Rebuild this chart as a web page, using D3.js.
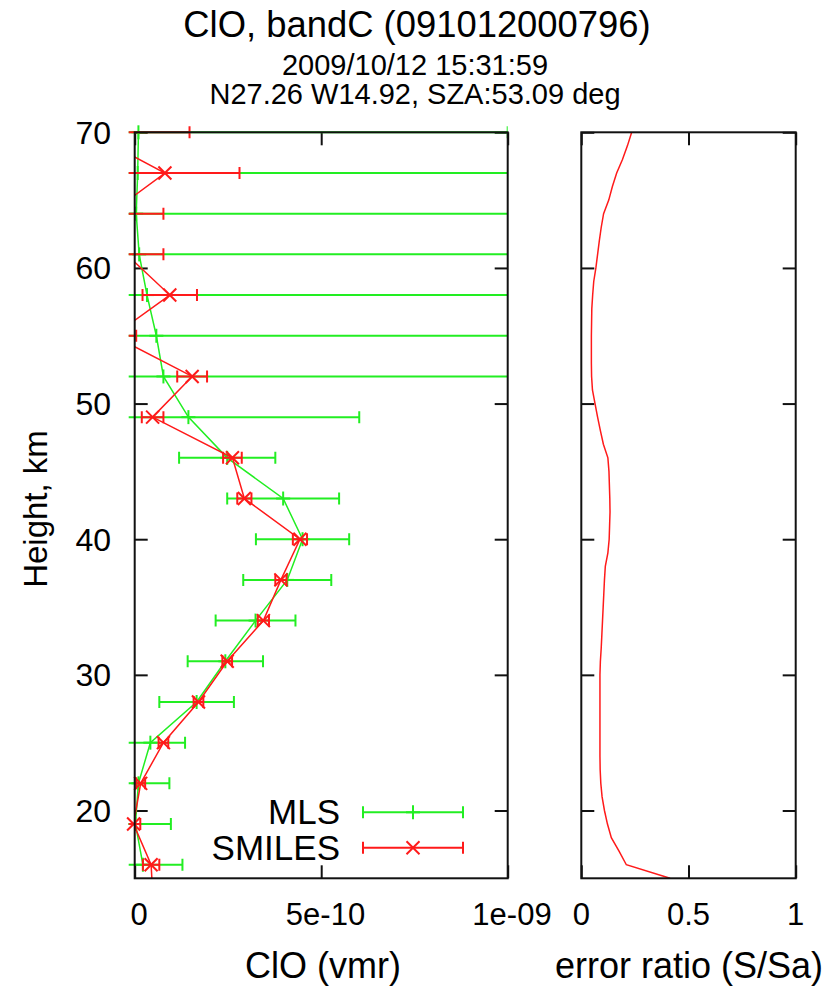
<!DOCTYPE html>
<html>
<head>
<meta charset="utf-8">
<script src="https://cdn.jsdelivr.net/npm/d3@7"></script>
<style>
  html, body { margin: 0; padding: 0; background: #fff; }
  svg text { font-family: "Liberation Sans", Arial, sans-serif; fill: #000; white-space: pre; }
</style>
</head>
<body>
<svg id="chart" width="827" height="987"></svg>
<script>
// ClO retrieval, band C: SMILES vs MLS profiles and the error ratio of the retrieval

// MLS profile (vmr) with its error
const mlsHeight = [70, 67, 64, 61, 58, 55, 52, 49, 46, 43, 40, 37, 34, 31, 28, 25, 22, 19, 16];
const mlsValue  = [1.0e-11, 8e-12, 4e-12, 1.2e-11, 3.3e-11, 5.8e-11, 7.7e-11, 1.44e-10, 2.48e-10,
                   3.98e-10, 4.50e-10, 4.09e-10, 3.24e-10, 2.43e-10, 1.66e-10, 4.2e-11, 1.0e-11, 2e-12, 2.2e-11];
const mlsError  = [9.9e-10, 1.2e-9, 1.3e-9, 1.1e-9, 1.05e-9, 1.0e-9, 1.0e-9, 4.58e-10, 1.29e-10,
                   1.5e-10, 1.25e-10, 1.18e-10, 1.07e-10, 1.01e-10, 1.0e-10, 9.3e-11, 8.3e-11, 9.5e-11, 1.06e-10];

// SMILES profile (vmr) with its error
const smilesHeight = [70, 67, 64, 61, 58, 55, 52, 49, 46, 43, 40, 37, 34, 31, 28, 25, 22, 19, 16, 13];
const smilesValue  = [-1.25e-10, 8.1e-11, -6.6e-11, -2.2e-11, 9.4e-11, -5.7e-11, 1.54e-10, 4.8e-11, 2.62e-10,
                      2.94e-10, 4.43e-10, 3.92e-10, 3.45e-10, 2.48e-10, 1.71e-10, 7.7e-11, 1.6e-11, -3e-12, 4.4e-11, 5.0e-11];
const smilesError  = [2.72e-10, 2.0e-10, 1.43e-10, 9.9e-11, 7.3e-11, 6.1e-11, 4.0e-11, 2.9e-11, 2.5e-11,
                      1.9e-11, 1.9e-11, 1.5e-11, 1.5e-11, 1.3e-11, 1.3e-11, 1.3e-11, 1.2e-11, 1.8e-11, 2.2e-11, 2.5e-11];

// Error ratio S/Sa on a 1 km grid
const ratioHeight = d3.range(70, 14, -1);
const ratioValue  = [0.235, 0.215, 0.192, 0.165, 0.145, 0.128, 0.104, 0.093, 0.084, 0.076,
                     0.068, 0.058, 0.053, 0.049, 0.048, 0.047, 0.047, 0.047, 0.048, 0.052,
                     0.064, 0.076, 0.089, 0.103, 0.124, 0.129, 0.131, 0.133, 0.134, 0.132,
                     0.130, 0.124, 0.112, 0.108, 0.105, 0.102, 0.099, 0.096, 0.093, 0.089,
                     0.087, 0.087, 0.087, 0.087, 0.087, 0.087, 0.087, 0.088, 0.091, 0.097,
                     0.108, 0.122, 0.140, 0.176, 0.210, 0.414];

// Axis ticks
const heightTicks = [20, 30, 40, 50, 60, 70];
const cloTicks = [0, 5e-10, 1e-9];
const cloTickLabels = [" 0", " 5e-10", " 1e-09"];
const ratioTicks = [0, 0.5, 1];
const ratioTickLabels = ["0", "0.5", "1"];

const titleText = "ClO, bandC (091012000796)";
const subtitleLines = ["2009/10/12 15:31:59", "N27.26 W14.92, SZA:53.09 deg"];

const GREEN = "#22ee22";
const RED = "#ff1a1a";
const FRAME = "#111";

const svg = d3.select("#chart");

const plotTop = 132.3, plotBottom = 878.3;
const L = { x0: 134.7, x1: 507.7 };
const R = { x0: 581.3, x1: 795.7 };

const y = d3.scaleLinear().domain([15, 70]).range([plotBottom, plotTop]);
const xc = d3.scaleLinear().domain([0, 1e-9]).range([L.x0, L.x1]);
const xr = d3.scaleLinear().domain([0, 1]).range([R.x0, R.x1]);

const defs = svg.append("defs");
defs.append("clipPath").attr("id", "clipL").append("rect")
  .attr("x", L.x0).attr("y", plotTop).attr("width", L.x1 - L.x0).attr("height", plotBottom - plotTop);
// error bars may spill a few pixels past the left border
defs.append("clipPath").attr("id", "clipBars").append("rect")
  .attr("x", L.x0 - 6).attr("y", plotTop - 10).attr("width", L.x1 - L.x0 + 6).attr("height", plotBottom - plotTop + 20);
defs.append("clipPath").attr("id", "clipR").append("rect")
  .attr("x", R.x0).attr("y", plotTop).attr("width", R.x1 - R.x0).attr("height", plotBottom - plotTop);

// Titles
svg.append("text").attr("x", 417).attr("y", 37).attr("text-anchor", "middle")
  .attr("font-size", 36.4).text(titleText);
subtitleLines.forEach((t, i) => {
  svg.append("text").attr("x", 415).attr("y", 75 + i * 29).attr("text-anchor", "middle")
    .attr("font-size", 29).text(t);
});

// Axis frames with inward ticks on all sides
function frame(xScale, ticks, labels, panel, showYLabels) {
  const g = svg.append("g");
  const tl = 13;
  const yAxisL = d3.axisRight(y).tickValues(heightTicks).tickSize(tl).tickFormat("");
  const yAxisR = d3.axisLeft(y).tickValues(heightTicks).tickSize(tl).tickFormat("");
  const xAxisB = d3.axisTop(xScale).tickValues(ticks).tickSize(tl).tickFormat("");
  const xAxisT = d3.axisBottom(xScale).tickValues(ticks).tickSize(tl).tickFormat("");
  g.append("g").attr("transform", `translate(${panel.x0},0)`).call(yAxisL);
  g.append("g").attr("transform", `translate(${panel.x1},0)`).call(yAxisR);
  g.append("g").attr("transform", `translate(0,${plotBottom})`).call(xAxisB);
  g.append("g").attr("transform", `translate(0,${plotTop})`).call(xAxisT);
  g.selectAll(".domain").remove();
  g.selectAll(".tick line").attr("stroke", FRAME).attr("stroke-width", 2);
  ticks.forEach((t, i) => {
    svg.append("text").attr("x", xScale(t)).attr("y", 925).attr("text-anchor", "middle")
      .attr("font-size", 31).text(labels[i]);
  });
  if (showYLabels) {
    heightTicks.forEach(h => {
      svg.append("text").attr("x", 111).attr("y", y(h) + 11.5).attr("text-anchor", "end")
        .attr("font-size", 32).text(h);
    });
  }
  return g;
}

frame(xc, cloTicks, cloTickLabels, L, true);
frame(xr, ratioTicks, ratioTickLabels, R, false);

// Error bars
function errorBars(hs, vs, es, color) {
  const g = svg.append("g").attr("clip-path", "url(#clipBars)")
    .attr("stroke", color).attr("stroke-width", 2).attr("fill", "none");
  hs.forEach((h, i) => {
    const lo = vs[i] - es[i], hi = vs[i] + es[i];
    const yy = y(h);
    g.append("line").attr("x1", xc(lo)).attr("x2", xc(hi)).attr("y1", yy).attr("y2", yy);
    [lo, hi].forEach(v => {
      if (v >= -6e-12 && v <= 1e-9 + 1e-13) {
        g.append("line").attr("x1", xc(v)).attr("x2", xc(v)).attr("y1", yy - 6).attr("y2", yy + 6);
      }
    });
  });
}

function profileLine(hs, vs, color) {
  const line = d3.line().x((d, i) => xc(vs[i])).y(d => y(d));
  svg.append("path").datum(hs).attr("d", line).attr("clip-path", "url(#clipL)")
    .attr("fill", "none").attr("stroke", color).attr("stroke-width", 1.5);
}

function plusMark(g, cx, cy, color) {
  g.append("line").attr("x1", cx - 7).attr("x2", cx + 7).attr("y1", cy).attr("y2", cy).attr("stroke", color).attr("stroke-width", 2);
  g.append("line").attr("x1", cx).attr("x2", cx).attr("y1", cy - 7).attr("y2", cy + 7).attr("stroke", color).attr("stroke-width", 2);
}
function crossMark(g, cx, cy, color) {
  const s = 6.5;
  g.append("line").attr("x1", cx - s).attr("x2", cx + s).attr("y1", cy - s).attr("y2", cy + s).attr("stroke", color).attr("stroke-width", 2);
  g.append("line").attr("x1", cx - s).attr("x2", cx + s).attr("y1", cy + s).attr("y2", cy - s).attr("stroke", color).attr("stroke-width", 2);
}

// points within the plot area (a pixel or two of slack at the borders)
function inside(v, h) {
  return xc(v) >= L.x0 - 3 && xc(v) <= L.x1 && h >= 15 && h <= 70;
}

errorBars(mlsHeight, mlsValue, mlsError, GREEN);
profileLine(mlsHeight, mlsValue, GREEN);
const gm = svg.append("g");
mlsHeight.forEach((h, i) => { if (inside(mlsValue[i], h)) plusMark(gm, xc(mlsValue[i]), y(h), GREEN); });

errorBars(smilesHeight, smilesValue, smilesError, RED);
profileLine(smilesHeight, smilesValue, RED);
const gs = svg.append("g");
smilesHeight.forEach((h, i) => { if (inside(smilesValue[i], h)) crossMark(gs, xc(smilesValue[i]), y(h), RED); });

// Error ratio profile
const rLine = d3.line().x((d, i) => xr(ratioValue[i])).y(d => y(d));
svg.append("path").datum(ratioHeight).attr("d", rLine).attr("clip-path", "url(#clipR)")
  .attr("fill", "none").attr("stroke", RED).attr("stroke-width", 1.5);

// Borders drawn on top
[L, R].forEach(p => {
  svg.append("rect").attr("x", p.x0).attr("y", plotTop).attr("width", p.x1 - p.x0).attr("height", plotBottom - plotTop)
    .attr("fill", "none").attr("stroke", FRAME).attr("stroke-width", 2);
});

// Key
const key = [
  { name: "MLS", color: GREEN, y: 812.3, mark: plusMark },
  { name: "SMILES", color: RED, y: 847.7, mark: crossMark }
];
const gk = svg.append("g");
key.forEach(k => {
  svg.append("text").attr("x", 340).attr("y", k.y + 12).attr("text-anchor", "end")
    .attr("font-size", 35).text(k.name);
  gk.append("line").attr("x1", 363).attr("x2", 463).attr("y1", k.y).attr("y2", k.y).attr("stroke", k.color).attr("stroke-width", 2);
  [363, 463].forEach(xx => gk.append("line").attr("x1", xx).attr("x2", xx).attr("y1", k.y - 6).attr("y2", k.y + 6)
    .attr("stroke", k.color).attr("stroke-width", 2));
  k.mark(gk, 413, k.y, k.color);
});

// Axis titles
svg.append("text").attr("x", 323).attr("y", 978).attr("text-anchor", "middle").attr("font-size", 36).text("ClO (vmr)");
svg.append("text").attr("x", 689).attr("y", 978).attr("text-anchor", "middle").attr("font-size", 36).text("error ratio (S/Sa)");
svg.append("text").attr("transform", "translate(47,509) rotate(-90)").attr("text-anchor", "middle")
  .attr("font-size", 33).text("Height, km");
</script>
</body>
</html>
